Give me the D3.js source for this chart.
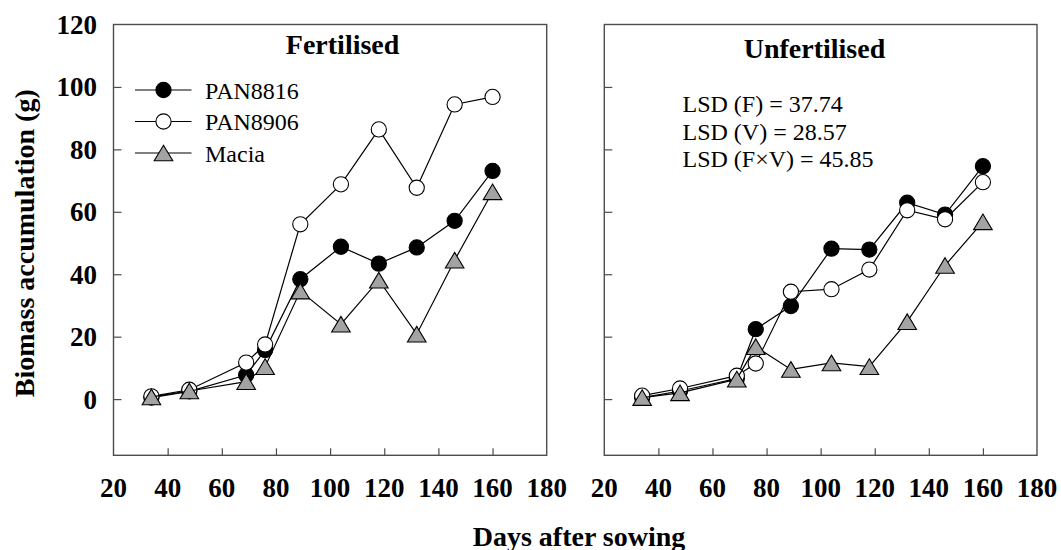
<!DOCTYPE html>
<html>
<head>
<meta charset="utf-8">
<script src="https://cdn.jsdelivr.net/npm/d3@7"></script>
<style>
  html, body { margin: 0; padding: 0; background: #fff; }
  svg { display: block; font-family: "Liberation Serif", "Times New Roman", serif; }
</style>
</head>
<body>
<svg id="chart" width="1061" height="550"></svg>
<script>
// Sampling dates (days after sowing)
const days = [34, 48, 69, 76, 89, 104, 118, 132, 146, 160];

// Biomass accumulation (g) – fertilised plots
const fertPAN8816 = [0.5, 2.5, 7.7, 15.7, 38.4, 48.8, 43.4, 48.6, 57.1, 73.1];
const fertPAN8906 = [0.9, 3.0, 11.7, 17.5, 56.0, 68.8, 86.4, 67.7, 94.4, 96.8];
const fertMacia   = [0.7, 2.6, 5.6, 10.4, 34.6, 24.0, 38.1, 20.8, 44.5, 66.4];

// Biomass accumulation (g) – unfertilised plots
const unfPAN8816 = [0.5, 2.6, 6.6, 22.4, 29.8, 48.2, 47.9, 62.9, 59.1, 74.6];
const unfPAN8906 = [1.1, 3.4, 7.5, 11.4, 34.4, 35.2, 41.5, 60.5, 57.6, 69.5];
const unfMacia   = [0.5, 2.0, 6.4, 16.8, 9.5, 11.6, 10.4, 24.8, 42.8, 56.8];

const varieties = ["PAN8816", "PAN8906", "Macia"];
const panelTitles = ["Fertilised", "Unfertilised"];
const xTicks = [20, 40, 60, 80, 100, 120, 140, 160, 180];
const yTicks = [0, 20, 40, 60, 80, 100, 120];
const lsdLines = ["LSD (F) = 37.74", "LSD (V) = 28.57", "LSD (F\u00D7V) = 45.85"];

const panelSeries = [
  [fertPAN8816, fertPAN8906, fertMacia],
  [unfPAN8816, unfPAN8906, unfMacia]
];

const symbolStyle = {
  PAN8816: { shape: "circle", fill: "#000000" },
  PAN8906: { shape: "circle", fill: "#ffffff" },
  Macia:   { shape: "triangle", fill: "#a3a3a3" }
};

const svg = d3.select("#chart");
const frameColor = "#4d4d4d";
const plotTop = 24.5, plotBottom = 455.3;
const panels = [
  { x0: 113.5, x1: 546.7, titleX: 342.6, titleY: 54 },
  { x0: 604.3, x1: 1037,  titleX: 814.5, titleY: 58 }
];

const y = d3.scaleLinear().domain([-18, 120]).range([plotBottom, plotTop]);

function drawSymbol(g, kind, cx, cy) {
  const st = symbolStyle[kind];
  if (st.shape === "circle") {
    g.append("circle").attr("cx", cx).attr("cy", cy).attr("r", 7.6)
      .attr("fill", st.fill).attr("stroke", "#000").attr("stroke-width", 1.1);
  } else {
    const w = 18.6, h = 15.6;
    g.append("path")
      .attr("d", `M${cx},${cy - h / 2}L${cx + w / 2},${cy + h / 2}L${cx - w / 2},${cy + h / 2}Z`)
      .attr("fill", st.fill).attr("stroke", "#000").attr("stroke-width", 1.1)
      .attr("stroke-linejoin", "miter");
  }
}

panels.forEach((p, pi) => {
  const x = d3.scaleLinear().domain([20, 180]).range([p.x0, p.x1]);
  const g = svg.append("g");

  // inward tick marks on the left and bottom
  const xAxis = d3.axisBottom(x).tickValues(xTicks.slice(1, -1)).tickSizeInner(-7).tickSizeOuter(0).tickFormat("");
  g.append("g").attr("transform", `translate(0,${plotBottom})`).call(xAxis)
    .call(s => s.select(".domain").remove())
    .call(s => s.selectAll(".tick line").attr("stroke", frameColor).attr("stroke-width", 1.2));

  const yAxis = d3.axisLeft(y).tickValues(yTicks.slice(0, -1)).tickSizeInner(-8).tickSizeOuter(0).tickFormat("");
  g.append("g").attr("transform", `translate(${p.x0},0)`).call(yAxis)
    .call(s => s.select(".domain").remove())
    .call(s => s.selectAll(".tick line").attr("stroke", frameColor).attr("stroke-width", 1.2));

  // panel frame
  g.append("rect").attr("x", p.x0).attr("y", plotTop).attr("width", p.x1 - p.x0).attr("height", plotBottom - plotTop)
    .attr("fill", "none").attr("stroke", frameColor).attr("stroke-width", 1.4);

  // x tick labels
  g.selectAll(".xl").data(xTicks).enter().append("text")
    .attr("x", d => x(d)).attr("y", 496.5)
    .attr("text-anchor", "middle").attr("font-weight", "bold").attr("font-size", 27)
    .text(d => d);

  // y tick labels (left panel only)
  if (pi === 0) {
    g.selectAll(".yl").data(yTicks).enter().append("text")
      .attr("x", 97).attr("y", d => y(d)).attr("dy", "0.35em")
      .attr("text-anchor", "end").attr("font-weight", "bold").attr("font-size", 27)
      .text(d => d);
  }

  // panel title
  g.append("text").attr("x", p.titleX).attr("y", p.titleY)
    .attr("text-anchor", "middle").attr("font-weight", "bold").attr("font-size", 28)
    .text(panelTitles[pi]);

  // series: connecting line then symbols
  const line = d3.line().x(d => x(d[0])).y(d => y(d[1]));
  panelSeries[pi].forEach((vals, si) => {
    const pts = days.map((d, i) => [d, vals[i]]);
    const sg = g.append("g");
    sg.append("path").attr("d", line(pts)).attr("fill", "none")
      .attr("stroke", "#000").attr("stroke-width", 1.2);
    pts.forEach(pt => drawSymbol(sg, varieties[si], x(pt[0]), y(pt[1])));
  });
});

// legend in the fertilised panel
const legendRows = [90, 121.5, 153];
const lg = svg.append("g");
varieties.forEach((v, i) => {
  const cy = legendRows[i];
  lg.append("line").attr("x1", 135).attr("x2", 191.5).attr("y1", cy).attr("y2", cy)
    .attr("stroke", "#000").attr("stroke-width", 1.2);
  drawSymbol(lg, v, 163.5, cy);
  lg.append("text").attr("x", 205).attr("y", cy + 8.5).attr("font-size", 24).text(v);
});

// LSD annotation in the unfertilised panel
svg.append("g").selectAll("text").data(lsdLines).enter().append("text")
  .attr("x", 682.5).attr("y", (d, i) => [112, 140, 167][i])
  .attr("font-size", 24).text(d => d);

// axis titles
svg.append("text").attr("transform", "translate(33.5,243.3) rotate(-90)")
  .attr("text-anchor", "middle").attr("font-weight", "bold").attr("font-size", 28)
  .text("Biomass accumulation (g)");
svg.append("text").attr("x", 579).attr("y", 545.5)
  .attr("text-anchor", "middle").attr("font-weight", "bold").attr("font-size", 28)
  .text("Days after sowing");
</script>
</body>
</html>
